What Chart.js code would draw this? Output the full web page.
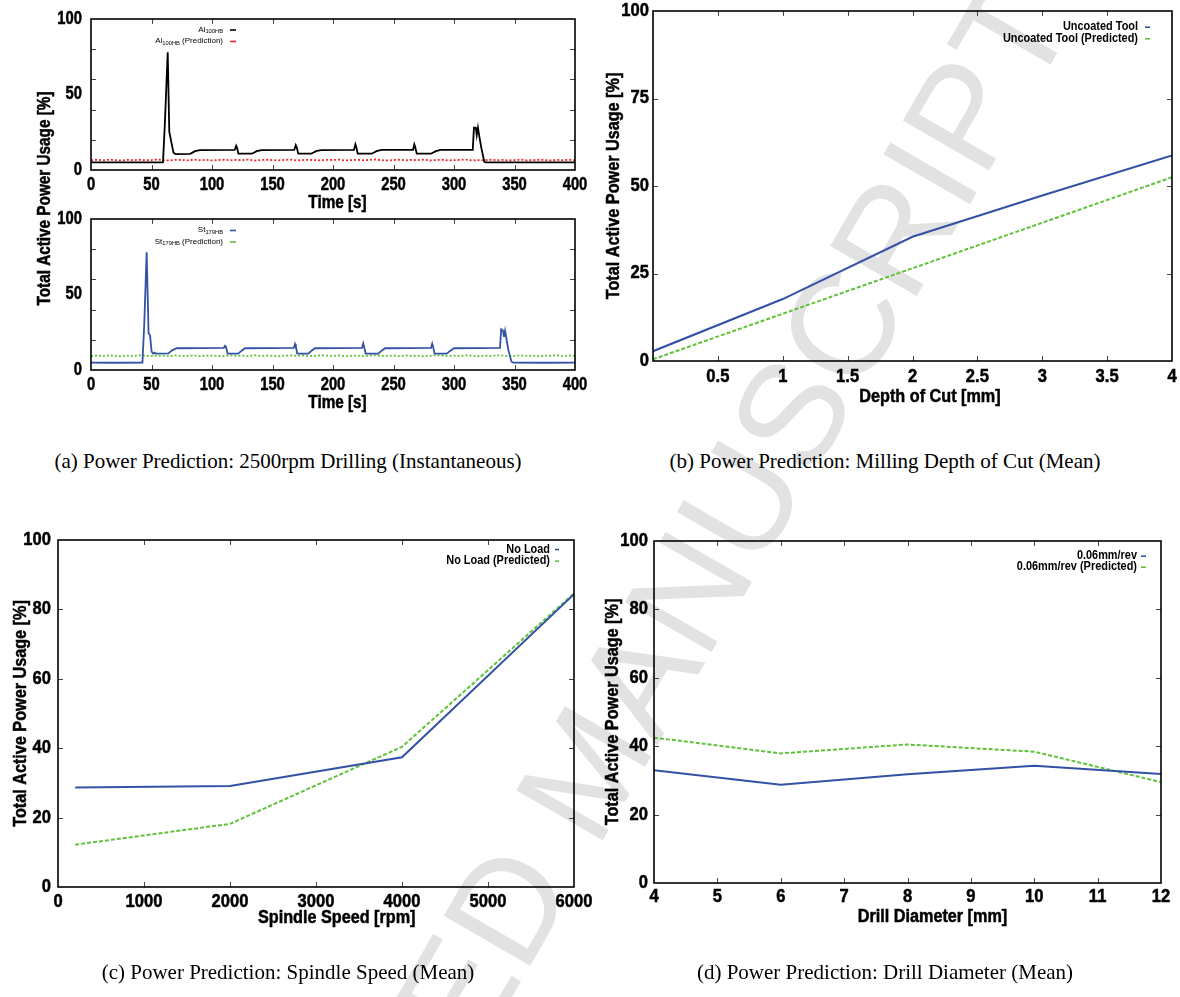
<!DOCTYPE html>
<html><head><meta charset="utf-8">
<script src="https://cdn.jsdelivr.net/npm/chart.js@4.4.1/dist/chart.umd.min.js"></script>
<style>
html,body{margin:0;padding:0;background:#fff;}
body{width:1180px;height:997px;position:relative;overflow:hidden;}
canvas{position:absolute;z-index:1;}
#wm{position:absolute;left:586px;top:770px;transform:translate(-50%,-50%) rotate(-60deg);font-family:'Liberation Sans',Arial,sans-serif;font-size:145px;color:#e2e2e2;white-space:nowrap;z-index:0;}
.cap{position:absolute;font-family:'Liberation Serif','Times New Roman',serif;font-size:21px;color:#000;white-space:nowrap;transform:translate(-50%,-50%);z-index:2;}
</style></head>
<body>
<div id="wm">ACCEPTED MANUSCRIPT</div>
<canvas id="cA1"></canvas>
<canvas id="cA2"></canvas>
<canvas id="cB"></canvas>
<canvas id="cC"></canvas>
<canvas id="cD"></canvas>
<div class="cap" style="left:288px;top:461px">(a) Power Prediction: 2500rpm Drilling (Instantaneous)</div>
<div class="cap" style="left:885px;top:461px">(b) Power Prediction: Milling Depth of Cut (Mean)</div>
<div class="cap" style="left:288px;top:972px">(c) Power Prediction: Spindle Speed (Mean)</div>
<div class="cap" style="left:885px;top:972px">(d) Power Prediction: Drill Diameter (Mean)</div>
<script>
// ---------- DATA ----------
// (a) top: Al100HB measured (time [s], power [%])
const AL_T = [0,20,40,59.5,61,63.4,64.7,66.5,68.2,70,82,86,90,118.8,120,120.8,121.8,133,137,141,168,169.2,170,171.3,182,186,190,217.3,218.5,219.3,220.4,232,236,240,266.2,267.2,268,269.2,281,285,289,315.5,316.5,318,318.8,319.8,321,322.5,325,326,360,400];
const AL_V = [5.1,5.0,5.1,5.1,30,78,25.4,18,11.5,10.5,10.7,12.5,13.2,13.3,16,14.5,10.8,10.8,12.5,13.2,13.3,16.5,15,10.8,10.8,12.5,13.2,13.3,17,15,10.8,10.8,12.5,13.3,13.4,17,15,10.8,10.8,12.5,13.3,13.4,28,28,23,28,22,15,5.5,5.1,5.0,5.1];
// (a) bottom: St179HB measured
const ST_T = [0,20,42.5,44,46,47.6,48.8,50.1,51.5,52.5,53.5,63.9,67,70.8,109.8,110.7,111.5,112.9,121.7,124.5,127.2,167.6,168.6,169.3,170.5,179.6,182.3,185,224,225,225.7,227,237.4,240.2,243,281,282,282.7,284,294,297,300,338,339,340.5,341.3,342.2,343.5,345,347.5,349,375,400];
const ST_V = [4.9,4.8,4.9,30,78,24.3,23,12.1,10.8,11.5,10.9,11,13,14.4,14.6,16,15.5,10.8,10.8,12.8,14.4,14.6,17.2,15.5,10.8,10.8,12.8,14.4,14.6,17.6,15.5,10.8,10.8,12.8,14.4,14.6,17.5,15.5,10.8,10.8,12.8,14.4,14.6,27,26,22,26,20,13,5.5,4.9,4.8,4.9];
// (a) predictions, sampled every 5 s
const PRED_T = [0,5,10,15,20,25,30,35,40,45,50,55,60,65,70,75,80,85,90,95,100,105,110,115,120,125,130,135,140,145,150,155,160,165,170,175,180,185,190,195,200,205,210,215,220,225,230,235,240,245,250,255,260,265,270,275,280,285,290,295,300,305,310,315,320,325,330,335,340,345,350,355,360,365,370,375,380,385,390,395,400];
const AL_PRED = [6.5,6.8,6.4,6.9,6.6,6.3,6.7,6.5,6.8,6.4,6.6,7.0,6.5,6.3,6.8,6.6,6.4,6.9,6.5,6.7,6.3,6.6,6.8,6.4,6.7,6.5,6.9,6.2,6.6,6.8,6.5,6.4,6.7,6.9,6.3,6.6,6.8,6.5,6.4,6.7,6.6,6.9,6.3,6.5,6.8,6.4,6.7,7.0,6.5,6.3,6.6,6.8,6.4,6.7,6.5,6.9,6.3,6.6,6.8,6.4,6.5,6.7,6.9,6.3,6.6,6.4,6.8,6.5,6.7,6.3,6.6,6.9,6.4,6.5,6.8,6.6,6.3,6.7,6.5,6.8,6.4];
const ST_PRED = [9.3,9.6,9.2,9.7,9.4,9.1,9.5,9.3,9.8,9.4,9.2,9.6,9.5,9.1,9.7,9.3,9.4,9.8,9.2,9.5,9.6,9.3,9.1,9.7,9.4,9.5,9.2,9.8,9.3,9.6,9.4,9.1,9.5,9.7,9.3,9.6,9.2,9.4,9.8,9.5,9.3,9.7,9.1,9.4,9.6,9.2,9.5,9.8,9.3,9.4,9.6,9.2,9.7,9.3,9.5,9.1,9.4,9.8,9.6,9.3,9.5,9.2,9.7,9.4,9.1,9.6,9.3,9.8,9.5,9.2,9.4,9.7,9.3,9.6,9.1,9.5,9.4,9.8,9.2,9.6,9.3];
const A_Y_TICKS = [0,20,40,50,60,80,100];
const A_Y_LABELS = [0,50,100];
// (b) milling depth of cut
const DEPTH = [0,1,2,3,4];
const UNCOATED = [2.8,17.7,35.5,47.3,58.7];
const UNCOATED_PRED = [0.5,13.5,26.5,39.5,52.5];
// (c) spindle speed
const SPEED = [200,2000,4000,6000];
const NOLOAD = [28.7,29.1,37.4,84.4];
const NOLOAD_PRED = [12.2,18.2,40.4,84.6];
// (d) drill diameter
const DIAM = [4,6,8,10,12];
const FEED = [33.0,28.7,31.8,34.3,31.9];
const FEED_PRED = [42.5,37.9,40.5,38.4,29.5];

// ---------- STYLE ----------
const SANS = "'Liberation Sans',Arial,Helvetica,sans-serif";
const BLUE = '#3352a6', GREEN = '#5fc23a', RED = '#ee2a24', BLACK = '#000000';

const pts = (X, Y) => X.map((x, i) => ({x: x, y: Y[i]}));

function squeezed(ctx, text, x, y, f, align, rot, heavy) {
  ctx.save();
  ctx.translate(x, y);
  if (rot) ctx.rotate(rot);
  ctx.scale(f, 1);
  ctx.textAlign = align; ctx.textBaseline = 'middle';
  ctx.fillText(text, 0, 0);
  if (heavy) { ctx.lineWidth = heavy; ctx.strokeStyle = ctx.fillStyle; ctx.strokeText(text, 0, 0); }
  ctx.restore();
}

// frame, inward tick marks and tick labels (gnuplot look), from the chart's own scales
const framePlugin = {
  id: 'gnuFrame',
  afterDatasetsDraw(chart, args, o) {
    const {ctx, chartArea: a, scales: {x, y}} = chart;
    const L = 5;
    ctx.save();
    ctx.strokeStyle = '#444'; ctx.lineWidth = 1;
    ctx.beginPath();
    x.ticks.forEach(t => {
      const p = Math.round(x.getPixelForValue(t.value)) + 0.5;
      if (p <= a.left + 2 || p >= a.right - 2) return;
      ctx.moveTo(p, a.bottom); ctx.lineTo(p, a.bottom - L);
      ctx.moveTo(p, a.top); ctx.lineTo(p, a.top + L);
    });
    y.ticks.forEach(t => {
      if ((o.skipY || []).includes(t.value)) return;
      const p = Math.round(y.getPixelForValue(t.value)) + 0.5;
      if (p <= a.top + 2 || p >= a.bottom - 2) return;
      ctx.moveTo(a.left, p); ctx.lineTo(a.left + L, p);
      ctx.moveTo(a.right, p); ctx.lineTo(a.right - L, p);
    });
    ctx.stroke();
    ctx.strokeStyle = '#000'; ctx.lineWidth = 1.6;
    ctx.strokeRect(a.left, a.top, a.right - a.left, a.bottom - a.top);
    // tick labels
    ctx.fillStyle = '#000';
    ctx.font = 'bold ' + o.tickSize + 'px ' + SANS;
    x.ticks.forEach(t => {
      const s = o.xFmt(t.value); if (!s) return;
      squeezed(ctx, s, x.getPixelForValue(t.value), a.bottom + o.xLab, o.f, 'center', 0, 0.5);
    });
    y.ticks.forEach(t => {
      const s = o.yFmt(t.value); if (!s) return;
      squeezed(ctx, s, a.left - o.yGap, y.getPixelForValue(t.value), o.f, 'right', 0, 0.5);
    });
    ctx.restore();
  }
};

function drawRich(ctx, str, xRight, y, size, weight, f) {
  const parts = []; const re = /_\{([^}]*)\}/g; let last = 0, m;
  while ((m = re.exec(str))) {
    if (m.index > last) parts.push({t: str.slice(last, m.index), sub: false});
    parts.push({t: m[1], sub: true}); last = re.lastIndex;
  }
  if (last < str.length) parts.push({t: str.slice(last), sub: false});
  const fN = weight + ' ' + size + 'px ' + SANS, fS = weight + ' ' + (size * 0.72) + 'px ' + SANS;
  let w = 0;
  parts.forEach(p => { ctx.font = p.sub ? fS : fN; p.w = ctx.measureText(p.t).width * f; w += p.w; });
  let x = xRight - w;
  parts.forEach(p => { ctx.font = p.sub ? fS : fN; squeezed(ctx, p.t, x, y + (p.sub ? size * 0.3 : 0), f, 'left'); x += p.w; });
}

const legendPlugin = {
  id: 'gnuLegend',
  afterDraw(chart, args, o) {
    if (!o || !o.rows) return;
    const {ctx, chartArea: a} = chart;
    const ax = o.anchor === 'left' ? a.left : a.right;
    ctx.save();
    chart.data.datasets.forEach((ds, i) => {
      const yy = a.top + o.rows[i];
      ctx.fillStyle = '#000';
      drawRich(ctx, ds.label, ax + o.tx, yy, o.size, o.weight, o.f);
      ctx.strokeStyle = ds.borderColor; ctx.lineWidth = 1.6; ctx.setLineDash([]);
      ctx.beginPath(); ctx.moveTo(ax + o.s0, yy + 0.5); ctx.lineTo(ax + o.s1, yy + 0.5); ctx.stroke();
    });
    ctx.restore();
  }
};

const titlePlugin = {
  id: 'gnuTitles',
  afterDraw(chart, args, o) {
    const {ctx, chartArea: a} = chart;
    ctx.save();
    ctx.fillStyle = '#000';
    ctx.font = 'bold ' + o.size + 'px ' + SANS;
    if (o.x) squeezed(ctx, o.x.text, (a.left + a.right) / 2 + o.x.dx, a.bottom + o.x.dy, o.f, 'center', 0, 0.5);
    if (o.y) squeezed(ctx, o.y.text, a.left + o.y.dx, (a.top + a.bottom) / 2 + (o.y.dy || 0), o.f, 'center', -Math.PI / 2, 0.5);
    ctx.restore();
  }
};

function makeChart(id, box, plot, s) {
  const cv = document.getElementById(id);
  cv.width = box.w; cv.height = box.h;
  cv.style.left = box.x + 'px'; cv.style.top = box.y + 'px';
  cv.style.width = box.w + 'px'; cv.style.height = box.h + 'px';
  const yW = plot.l - box.x, xH = box.y + box.h - plot.b;
  const padTop = plot.t - box.y, padRight = box.x + box.w - plot.r;
  const yScale = {
    type: 'linear', min: s.yMin, max: s.yMax,
    grid: {display: false, drawTicks: false}, border: {display: false},
    ticks: {stepSize: s.yStep, display: false},
    afterFit: sc => { sc.width = yW; sc.paddingTop = 0; sc.paddingBottom = 0; }
  };
  if (s.yTicks) yScale.afterBuildTicks = sc => { sc.ticks = s.yTicks.map(v => ({value: v})); };
  return new Chart(cv, {
    type: 'line',
    data: {datasets: s.datasets},
    options: {
      responsive: false, animation: false, events: [],
      layout: {padding: {top: padTop, right: padRight, left: 0, bottom: 0}},
      elements: {point: {radius: 0}, line: {tension: 0}},
      plugins: {legend: {display: false}, tooltip: {enabled: false},
                gnuFrame: s.frame, gnuLegend: s.legend, gnuTitles: s.titles},
      scales: {
        x: {type: 'linear', min: s.xMin, max: s.xMax,
            grid: {display: false, drawTicks: false}, border: {display: false},
            ticks: {stepSize: s.xStep, display: false},
            afterFit: sc => { sc.height = xH; sc.paddingLeft = 0; sc.paddingRight = 0; }},
        y: yScale
      }
    },
    plugins: [framePlugin, legendPlugin, titlePlugin]
  });
}

const yTitle = 'Total Active Power Usage [%]';
const num = v => String(v);
const aYfmt = v => A_Y_LABELS.includes(v) ? String(v) : '';
const legA = {anchor: 'left', tx: 132, s0: 139, s1: 145, size: 8, weight: 'normal', f: 1};
const legR = {anchor: 'right', size: 13, weight: 'bold', f: 0.84};

// (a) top
makeChart('cA1', {x: 0, y: 0, w: 600, h: 420}, {l: 91, t: 19, r: 575, b: 170}, {
  xMin: 0, xMax: 400, xStep: 50, yMin: 0, yMax: 100, yTicks: A_Y_TICKS,
  frame: {skipY: [50], tickSize: 18, f: 0.82, xLab: 15, yGap: 9, xFmt: num, yFmt: aYfmt},
  legend: Object.assign({rows: [10.5, 22]}, legA),
  titles: {size: 18, f: 0.85, x: {text: 'Time [s]', dx: 4.5, dy: 33}, y: {text: yTitle, dx: -46, dy: 104}},
  datasets: [
    {label: 'Al_{100HB}', data: pts(AL_T, AL_V), borderColor: BLACK, borderWidth: 1.8},
    {label: 'Al_{100HB} (Prediction)', data: pts(PRED_T, AL_PRED), borderColor: RED, borderWidth: 1.8, borderDash: [2, 2]}
  ]
});
// (a) bottom
makeChart('cA2', {x: 0, y: 205, w: 600, h: 215}, {l: 91, t: 219, r: 575, b: 370}, {
  xMin: 0, xMax: 400, xStep: 50, yMin: 0, yMax: 100, yTicks: A_Y_TICKS,
  frame: {skipY: [50], tickSize: 18, f: 0.82, xLab: 15, yGap: 9, xFmt: num, yFmt: aYfmt},
  legend: Object.assign({rows: [11, 22.5]}, legA),
  titles: {size: 18, f: 0.85, x: {text: 'Time [s]', dx: 4.5, dy: 33}},
  datasets: [
    {label: 'St_{179HB}', data: pts(ST_T, ST_V), borderColor: BLUE, borderWidth: 1.8},
    {label: 'St_{179HB} (Prediction)', data: pts(PRED_T, ST_PRED), borderColor: GREEN, borderWidth: 1.8, borderDash: [2, 2]}
  ]
});
// (b)
makeChart('cB', {x: 580, y: 0, w: 600, h: 420}, {l: 653, t: 11, r: 1172, b: 361}, {
  xMin: 0, xMax: 4, xStep: 0.5, yMin: 0, yMax: 100, yStep: 25,
  frame: {tickSize: 18, f: 0.92, xLab: 16, yGap: 4, xFmt: v => v === 0 ? '' : String(v), yFmt: num},
  legend: Object.assign({rows: [15.7, 27.3], tx: -34, s0: -27, s1: -22}, legR),
  titles: {size: 18, f: 0.9, x: {text: 'Depth of Cut [mm]', dx: 17.5, dy: 35.7}, y: {text: yTitle, dx: -39.3}},
  datasets: [
    {label: 'Uncoated Tool', data: pts(DEPTH, UNCOATED), borderColor: BLUE, borderWidth: 2},
    {label: 'Uncoated Tool (Predicted)', data: pts(DEPTH, UNCOATED_PRED), borderColor: GREEN, borderWidth: 2, borderDash: [4, 2]}
  ]
});
// (c)
makeChart('cC', {x: 0, y: 490, w: 610, h: 470}, {l: 58, t: 540, r: 574, b: 887}, {
  xMin: 0, xMax: 6000, xStep: 1000, yMin: 0, yMax: 100, yStep: 20,
  frame: {tickSize: 18, f: 0.92, xLab: 15, yGap: 7, xFmt: num, yFmt: num},
  legend: Object.assign({rows: [9, 20.7], tx: -24, s0: -19, s1: -15}, legR),
  titles: {size: 18, f: 0.9, x: {text: 'Spindle Speed [rpm]', dx: 20.7, dy: 31}, y: {text: yTitle, dx: -37.3}},
  datasets: [
    {label: 'No Load', data: pts(SPEED, NOLOAD), borderColor: BLUE, borderWidth: 2},
    {label: 'No Load (Predicted)', data: pts(SPEED, NOLOAD_PRED), borderColor: GREEN, borderWidth: 2, borderDash: [4, 2]}
  ]
});
// (d)
makeChart('cD', {x: 590, y: 490, w: 590, h: 470}, {l: 654, t: 541, r: 1161, b: 883}, {
  xMin: 4, xMax: 12, xStep: 1, yMin: 0, yMax: 100, yStep: 20,
  frame: {tickSize: 18, f: 0.92, xLab: 14, yGap: 6, xFmt: num, yFmt: num},
  legend: Object.assign({rows: [14.7, 25.7], tx: -24, s0: -20, s1: -15}, legR),
  titles: {size: 18, f: 0.9, x: {text: 'Drill Diameter [mm]', dx: 25, dy: 33.7}, y: {text: yTitle, dx: -41.4}},
  datasets: [
    {label: '0.06mm/rev', data: pts(DIAM, FEED), borderColor: BLUE, borderWidth: 2},
    {label: '0.06mm/rev (Predicted)', data: pts(DIAM, FEED_PRED), borderColor: GREEN, borderWidth: 2, borderDash: [4, 2]}
  ]
});
</script>
</body></html>
